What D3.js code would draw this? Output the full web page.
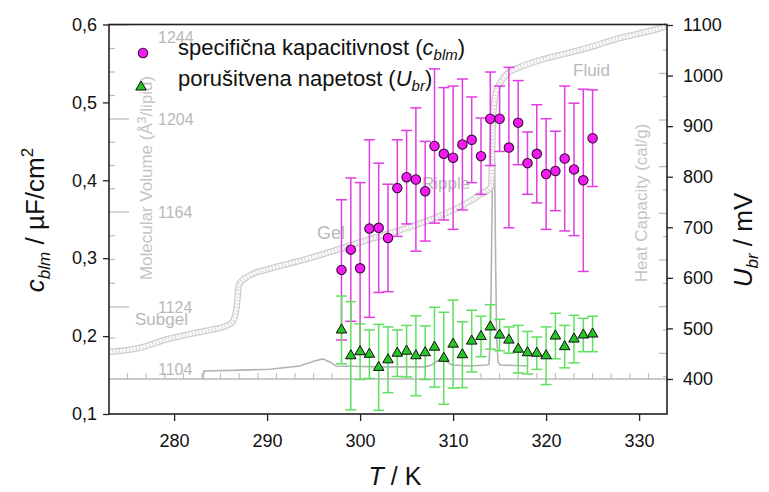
<!DOCTYPE html>
<html>
<head>
<meta charset="utf-8">
<script src="https://cdn.jsdelivr.net/npm/d3@7"></script>
<style>
  body { margin: 0; background: #fff; }
  svg { display: block; font-family: "Liberation Sans", Arial, sans-serif; }
</style>
</head>
<body>
<svg id="chart" width="769" height="492"></svg>
<script>
(function () {

  "use strict";

  // measured series (T in K)
  var temperature = [298, 299, 300, 301, 302, 303, 304, 305, 306, 307, 308, 309, 310, 311,
    312, 313, 314, 315, 316, 317, 318, 319, 320, 321, 322, 323, 324, 325];
  var capacitance = [0.285, 0.311, 0.287, 0.338, 0.339, 0.326, 0.390, 0.404, 0.401, 0.386,
    0.444, 0.434, 0.429, 0.446, 0.452, 0.431, 0.479, 0.479, 0.442, 0.474,
    0.422, 0.434, 0.408, 0.412, 0.428, 0.414, 0.400, 0.454];
  var capacitanceErr = [0.090, 0.092, 0.110, 0.114, 0.083, 0.069, 0.062, 0.060, 0.092, 0.064,
    0.099, 0.085, 0.092, 0.084, 0.055, 0.049, 0.060, 0.042, 0.103, 0.054,
    0.040, 0.063, 0.071, 0.051, 0.093, 0.085, 0.117, 0.062];
  var breakdown = [497, 446, 454, 449, 423, 438, 451, 455, 446, 452, 463, 441, 469, 448,
    475, 484, 503, 487, 477, 459, 452, 451, 446, 485, 464, 479, 487, 489];
  var breakdownErr = [67, 107, 55, 48, 85, 65, 46, 51, 79, 53, 79, 91, 87, 65,
    61, 40, 44, 31, 26, 47, 42, 32, 57, 45, 42, 47, 33, 35];

  // background figure: molecular volume and heat capacity of the lipid
  var volumeT = [273.0, 276.3, 279.0, 281.7, 283.9, 285.8, 286.3, 286.7, 287.0, 288.2,
    289.8, 293.5, 296.8, 299.7, 304.3, 308.3, 311.1, 313.2, 314.1, 314.2,
    314.3, 314.6, 315.2, 315.9, 317.2, 319.4, 323.7, 328.0, 332.3, 333.0];
  var volumeV = [1109.5, 1110.8, 1113.4, 1115.3, 1116.6, 1118.2, 1119.2, 1123.4, 1133.7, 1137.5,
    1139.6, 1143.4, 1147.2, 1150.9, 1156.4, 1161.9, 1167.0, 1172.2, 1174.8, 1190.7,
    1205.7, 1215.1, 1220.2, 1223.6, 1226.1, 1229.1, 1233.4, 1238.5, 1242.7, 1243.6];
  var heatT = [283.1, 283.2, 287.1, 290.3, 293.5, 295.2, 296.0, 296.8, 297.4, 302.2,
    307.0, 307.7, 308.3, 309.0, 309.9, 311.8, 313.65, 313.87, 314.03, 314.14,
    314.25, 314.35, 314.46, 314.57, 314.68, 314.84, 315.05, 318.1];
  var heatCp = [0.45, 0.62, 0.64, 0.66, 0.73, 0.84, 0.88, 0.81, 0.73, 0.71,
    0.71, 0.75, 0.84, 0.86, 0.75, 0.73, 0.75, 0.77, 1.50, 3.21,
    5.14, 5.64, 5.14, 3.00, 1.39, 0.81, 0.75, 0.73];
  var phaseLabels = ["Subgel", "Gel", "Ripple", "Fluid"];
  var volumeLabels = [1244, 1204, 1164, 1124, 1104];

  // axes
  var xTicks = [280, 290, 300, 310, 320, 330];
  var leftTicks = [0.1, 0.2, 0.3, 0.4, 0.5, 0.6];
  var rightTicks = [400, 500, 600, 700, 800, 900, 1000, 1100];
  var legendLabels = ["specifična kapacitivnost (", "porušitvena napetost ("];

  var svg = d3.select("#chart");
  var grey = "#b9b9b9";

  var x = d3.scaleLinear().domain([273, 333]).range([109, 667]);
  var yLeft = d3.scaleLinear().domain([0.1, 0.6]).range([414, 24.5]);
  var yRight = d3.scaleLinear().domain([400, 1100]).range([379, 25]);
  var yVolume = d3.scaleLinear().domain([1104, 1124, 1164, 1204, 1244]).range([369, 307, 212, 119, 25]);
  var yHeat = d3.scaleLinear().domain([0, 8]).range([400, 26.7]);

  var comma = d3.formatLocale({decimal: ",", thousands: ".", grouping: [3], currency: ["", ""]}).format(".1f");

  drawBackground();
  drawAxes();
  drawCapacitance();
  drawBreakdown();
  drawLegend();
  drawTitles();

  /**
   * grey phase diagram behind the data
   */
  function drawBackground() {
    var g = svg.append("g").attr("class", "background");

    // baseline of the heat capacity trace with its small ticks
    g.append("line")
      .attr("x1", x(273)).attr("x2", x(333))
      .attr("y1", yRight(400)).attr("y2", yRight(400))
      .attr("stroke", grey).attr("stroke-width", 1.5);
    g.selectAll("line.bt").data(d3.range(275, 333, 2)).enter().append("line")
      .attr("x1", function (d) { return x(d); }).attr("x2", function (d) { return x(d); })
      .attr("y1", yRight(400)).attr("y2", yRight(400) - 6)
      .attr("stroke", grey).attr("stroke-width", 1);

    // volume axis ticks along the left side
    g.selectAll("line.vt").data(d3.range(1114, 1245, 10)).enter().append("line")
      .attr("x1", 109)
      .attr("x2", function (d) { return (d - 1124) % 40 === 0 ? 129 : 115; })
      .attr("y1", function (d) { return yVolume(d); }).attr("y2", function (d) { return yVolume(d); })
      .attr("stroke", grey).attr("stroke-width", 1.2);
    g.selectAll("text.vl").data(volumeLabels).enter().append("text")
      .attr("x", 158)
      .attr("y", function (d) { return Math.max(yVolume(d), 37); })
      .attr("dy", "0.35em")
      .attr("font-size", 16).attr("fill", grey)
      .text(function (d) { return d; });

    // heat capacity axis ticks along the right side
    g.selectAll("line.ht").data(d3.range(0.5, 8.01, 0.5)).enter().append("line")
      .attr("x1", 667)
      .attr("x2", function (d) { return d % 1 === 0 ? 659 : 663; })
      .attr("y1", function (d) { return yHeat(d); }).attr("y2", function (d) { return yHeat(d); })
      .attr("stroke", grey).attr("stroke-width", 1.2);

    // heat capacity trace
    var heat = heatT.map(function (t, i) { return [t, heatCp[i]]; });
    g.append("path")
      .datum(heat)
      .attr("d", d3.line().x(function (d) { return x(d[0]); }).y(function (d) { return yHeat(d[1]); }))
      .attr("fill", "none").attr("stroke", "#b3b3b3").attr("stroke-width", 1.6);

    // molecular volume, drawn as a chain of open rings
    var volume = volumeT.map(function (t, i) { return [t, volumeV[i]]; });
    var line = d3.line().curve(d3.curveMonotoneX)
      .x(function (d) { return x(d[0]); }).y(function (d) { return yVolume(d[1]); });
    g.append("path").datum(volume).attr("d", line)
      .attr("fill", "none").attr("stroke", "#cdcdcd").attr("stroke-width", 6.5);
    g.append("path").datum(volume).attr("d", line)
      .attr("fill", "none").attr("stroke", "#fbfbfb").attr("stroke-width", 4);
    g.append("path").datum(volume).attr("d", line)
      .attr("fill", "none").attr("stroke", "#cfcfcf").attr("stroke-width", 4)
      .attr("stroke-dasharray", "0.8 2.6");

    // phase names
    var pos = [[135, 319, 17], [317, 233, 18], [422, 183, 17], [573, 70, 17]];
    g.selectAll("text.ph").data(phaseLabels).enter().append("text")
      .attr("x", function (d, i) { return pos[i][0]; })
      .attr("y", function (d, i) { return pos[i][1]; })
      .attr("dy", "0.35em")
      .attr("font-size", function (d, i) { return pos[i][2]; })
      .attr("fill", grey)
      .text(function (d) { return d; });

    var mv = g.append("text")
      .attr("transform", "translate(152,178) rotate(-90)")
      .attr("text-anchor", "middle").attr("font-size", 17).attr("fill", "#c4c4c4");
    mv.append("tspan").text("Molecular Volume (Å");
    mv.append("tspan").attr("dy", -6).attr("font-size", 12).text("3");
    mv.append("tspan").attr("dy", 6).text("/lipid)");

    g.append("text")
      .attr("transform", "translate(647,203) rotate(-90)")
      .attr("text-anchor", "middle").attr("font-size", 17).attr("fill", "#c4c4c4")
      .text("Heat Capacity (cal/g)");
  }

  function drawAxes() {
    var left = svg.append("g").attr("transform", "translate(109,0)")
      .call(d3.axisLeft(yLeft).tickValues(leftTicks).tickFormat(comma).tickSize(6).tickSizeOuter(0).tickPadding(6));
    var right = svg.append("g").attr("transform", "translate(667,0)")
      .call(d3.axisRight(yRight).tickValues(rightTicks).tickFormat(d3.format("d")).tickSize(6).tickSizeOuter(0).tickPadding(10));
    var bottom = svg.append("g").attr("transform", "translate(0,414)")
      .call(d3.axisBottom(x).tickValues(xTicks).tickFormat(d3.format("d")).tickSize(7).tickSizeOuter(0).tickPadding(13));

    [left, right, bottom].forEach(function (a) {
      a.select(".domain").remove();
      a.selectAll("text").attr("font-size", 18).attr("fill", "#111").attr("font-family", null);
      a.selectAll("line").attr("stroke", "#222").attr("stroke-width", 1.3);
    });

    svg.append("rect")
      .attr("x", 109).attr("y", 24.5).attr("width", 558).attr("height", 389.5)
      .attr("fill", "none").attr("stroke", "#222").attr("stroke-width", 1.6);
  }

  function errorBars(g, values, errs, scale, color) {
    var bars = g.selectAll("g.err").data(temperature).enter().append("g")
      .attr("stroke", color).attr("stroke-width", 1.5);
    bars.append("line")
      .attr("x1", function (d) { return x(d); }).attr("x2", function (d) { return x(d); })
      .attr("y1", function (d, i) { return scale(values[i] - errs[i]); })
      .attr("y2", function (d, i) { return scale(values[i] + errs[i]); });
    [-1, 1].forEach(function (s) {
      bars.append("line")
        .attr("x1", function (d) { return x(d) - 5.5; }).attr("x2", function (d) { return x(d) + 5.5; })
        .attr("y1", function (d, i) { return scale(values[i] + s * errs[i]); })
        .attr("y2", function (d, i) { return scale(values[i] + s * errs[i]); });
    });
  }

  function drawCapacitance() {
    var g = svg.append("g");
    errorBars(g, capacitance, capacitanceErr, yLeft, "#e23be2");
    g.selectAll("circle").data(temperature).enter().append("circle")
      .attr("cx", function (d) { return x(d); })
      .attr("cy", function (d, i) { return yLeft(capacitance[i]); })
      .attr("r", 4.7)
      .attr("fill", "#f21cf2").attr("stroke", "#3a0a3a").attr("stroke-width", 1.1);
  }

  function drawBreakdown() {
    var g = svg.append("g");
    errorBars(g, breakdown, breakdownErr, yRight, "#5fe05f");
    var tri = d3.symbol().type(d3.symbolTriangle).size(48);
    g.selectAll("path.tri").data(temperature).enter().append("path")
      .attr("d", tri)
      .attr("transform", function (d, i) { return "translate(" + x(d) + "," + yRight(breakdown[i]) + ")"; })
      .attr("fill", "#27c427").attr("stroke", "#111").attr("stroke-width", 1);
  }

  function drawLegend() {
    var g = svg.append("g").attr("font-size", 22).attr("fill", "#111");
    g.append("circle").attr("cx", 143).attr("cy", 53).attr("r", 4.7)
      .attr("fill", "#f21cf2").attr("stroke", "#3a0a3a").attr("stroke-width", 1.1);
    g.append("path").attr("d", d3.symbol().type(d3.symbolTriangle).size(48))
      .attr("transform", "translate(141,87)")
      .attr("fill", "#27c427").attr("stroke", "#111").attr("stroke-width", 1);

    var t1 = g.append("text").attr("x", 178).attr("y", 55);
    t1.append("tspan").text(legendLabels[0]);
    t1.append("tspan").attr("font-style", "italic").text("c");
    t1.append("tspan").attr("font-style", "italic").attr("font-size", 15).attr("dy", 5).text("blm");
    t1.append("tspan").attr("dy", -5).text(")");

    var t2 = g.append("text").attr("x", 178).attr("y", 86);
    t2.append("tspan").text(legendLabels[1]);
    t2.append("tspan").attr("font-style", "italic").text("U");
    t2.append("tspan").attr("font-style", "italic").attr("font-size", 15).attr("dy", 5).text("br");
    t2.append("tspan").attr("dy", -5).text(")");
  }

  function drawTitles() {
    var l = svg.append("text")
      .attr("transform", "translate(44,220) rotate(-90)")
      .attr("text-anchor", "middle").attr("font-size", 26).attr("fill", "#111");
    l.append("tspan").attr("font-style", "italic").text("c");
    l.append("tspan").attr("font-style", "italic").attr("font-size", 17).attr("dy", 6).text("blm");
    l.append("tspan").attr("dy", -6).text(" / µF/cm");
    l.append("tspan").attr("font-size", 17).attr("dy", -11).text("2");

    var r = svg.append("text")
      .attr("transform", "translate(752,240) rotate(-90)")
      .attr("text-anchor", "middle").attr("font-size", 26).attr("fill", "#111");
    r.append("tspan").attr("font-style", "italic").text("U");
    r.append("tspan").attr("font-style", "italic").attr("font-size", 17).attr("dy", 6).text("br");
    r.append("tspan").attr("dy", -6).text(" / mV");

    var b = svg.append("text")
      .attr("x", 395).attr("y", 485)
      .attr("text-anchor", "middle").attr("font-size", 25).attr("fill", "#111");
    b.append("tspan").attr("font-style", "italic").text("T");
    b.append("tspan").text(" / K");
  }

}());
</script>
</body>
</html>
